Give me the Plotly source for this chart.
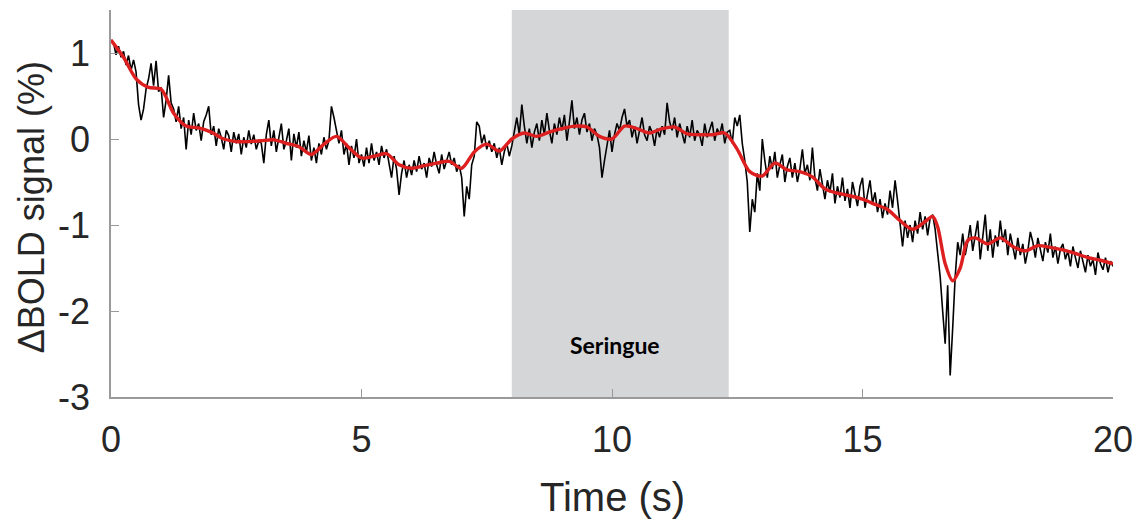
import numpy as np
import plotly.graph_objects as go

# raw BOLD trace, sampled every 0.05 s from 0 to 20 s
bold_raw = [
    1.15, 1.12, 0.98, 1.08, 0.95, 1.02, 0.86, 0.97, 0.80, 0.92, 0.78, 0.40, 0.22, 0.35, 0.58, 0.70, 0.88, 0.62, 0.91, 0.55,
    0.60, 0.25, 0.45, 0.74, 0.42, 0.35, 0.20, 0.38, 0.12, 0.25, -0.12, 0.22, 0.05, 0.30, 0.10, 0.18, -0.02, 0.20, 0.28, 0.38,
    0.05, 0.15, -0.08, 0.12, 0.02, -0.12, 0.10, 0.04, -0.15, 0.08, -0.05, 0.06, -0.18, 0.02, -0.10, 0.10, -0.06, 0.05, -0.12, -0.02,
    -0.05, -0.28, 0.05, 0.22, -0.08, 0.10, -0.15, 0.02, 0.18, -0.12, -0.02, 0.12, -0.25, 0.06, -0.10, 0.08, -0.20, -0.02, -0.15, 0.04,
    -0.25, -0.10, -0.28, -0.05, -0.18, 0.02, -0.12, -0.02, 0.38, 0.25, 0.12, -0.05, 0.10, -0.18, -0.05, -0.30, -0.08, -0.22, 0.00, -0.28,
    -0.18, -0.32, -0.10, -0.28, -0.05, -0.25, -0.15, -0.30, -0.08, -0.22, -0.12, -0.28, -0.45, -0.20, -0.35, -0.65, -0.40, -0.25, -0.45, -0.30,
    -0.42, -0.25, -0.38, -0.20, -0.35, -0.28, -0.45, -0.22, -0.32, -0.15, -0.30, -0.40, -0.18, -0.35, -0.25, -0.15, -0.30, -0.22, -0.38, -0.30,
    -0.45, -0.90, -0.55, -0.70, -0.30, -0.20, 0.20, 0.15, -0.05, 0.05, -0.12, -0.02, -0.15, -0.05, -0.22, -0.10, -0.30, -0.15, -0.05, -0.20,
    -0.08, 0.10, 0.25, 0.05, 0.40, 0.15, -0.05, 0.12, -0.10, 0.08, 0.18, -0.02, 0.22, 0.05, 0.30, 0.10, -0.05, 0.18, 0.05, 0.25,
    0.10, 0.28, -0.02, 0.20, 0.45, 0.12, 0.25, 0.05, 0.22, 0.30, 0.08, 0.18, -0.02, 0.12, 0.05, -0.10, -0.45, -0.25, -0.05, 0.10,
    -0.15, 0.05, 0.18, 0.10, 0.25, 0.35, 0.15, 0.22, 0.02, 0.15, -0.05, 0.12, 0.25, 0.05, -0.02, 0.15, 0.08, -0.08, 0.12, 0.02,
    0.15, 0.05, 0.42, 0.20, 0.10, 0.25, 0.02, 0.18, 0.08, -0.05, 0.15, 0.02, 0.22, -0.02, 0.10, 0.05, -0.08, 0.18, 0.02, 0.12,
    0.20, -0.02, 0.12, 0.05, 0.18, -0.05, 0.08, 0.10, -0.05, 0.25, 0.15, 0.28, -0.05, -0.25, -0.50, -1.08, -0.70, -0.85, -0.40, -0.60,
    0.00, -0.25, -0.45, -0.20, -0.35, -0.15, -0.45, -0.30, -0.18, -0.50, -0.32, -0.22, -0.45, -0.28, -0.50, -0.35, -0.12, -0.40, -0.30, -0.48,
    -0.10, -0.45, -0.60, -0.35, -0.55, -0.70, -0.48, -0.62, -0.40, -0.75, -0.55, -0.68, -0.45, -0.72, -0.58, -0.80, -0.50, -0.65, -0.78, -0.55,
    -0.45, -0.80, -0.65, -0.48, -0.75, -0.62, -0.85, -0.70, -0.92, -0.75, -0.88, -0.60, -0.80, -0.48, -0.72, -1.00, -1.25, -0.95, -1.15, -1.00,
    -1.20, -0.95, -1.10, -0.85, -1.05, -0.90, -1.12, -0.92, -0.88, -1.05, -1.35, -1.60, -2.00, -2.38, -1.70, -2.75, -2.20, -1.60, -1.20, -1.35,
    -1.10, -1.35, -1.20, -1.00, -1.30, -1.10, -0.95, -1.40, -1.15, -0.88, -1.30, -1.05, -1.38, -1.12, -1.25, -0.95, -1.20, -1.05, -1.35, -1.10,
    -1.25, -1.40, -1.15, -1.35, -1.22, -1.45, -1.30, -1.08, -1.20, -1.38, -1.15, -1.30, -1.42, -1.20, -1.32, -1.10, -1.38, -1.25, -1.45, -1.28,
    -1.22, -1.40, -1.30, -1.48, -1.25, -1.38, -1.50, -1.30, -1.42, -1.55, -1.35, -1.48, -1.40, -1.58, -1.32, -1.45, -1.52, -1.38, -1.55, -1.42,
    -1.48,
]
raw_time = np.linspace(0, 20, len(bold_raw))

# smoothed trace (red)
smooth_time = [0.0, 0.25, 0.5, 0.75, 1.0, 1.25, 1.5, 1.75, 2.0, 2.25, 2.5, 2.75, 3.0, 3.25, 3.5, 3.75,
               4.0, 4.25, 4.5, 4.75, 5.0, 5.25, 5.5, 5.75, 6.0, 6.25, 6.5, 6.75, 7.0, 7.25, 7.5, 7.75,
               8.0, 8.25, 8.5, 8.75, 9.0, 9.25, 9.5, 9.75, 10.0, 10.25, 10.5, 10.75, 11.0, 11.25, 11.5, 11.75,
               12.0, 12.25, 12.5, 12.75, 13.0, 13.25, 13.5, 13.75, 14.0, 14.25, 14.5, 14.75, 15.0, 15.25, 15.5, 15.75,
               16.0, 16.25, 16.4, 16.5, 16.65, 16.8, 16.95, 17.1, 17.25, 17.5, 17.75, 18.0, 18.25, 18.5, 18.75,
               19.0, 19.25, 19.5, 19.75, 20.0]
bold_smooth = [1.15, 0.95, 0.70, 0.60, 0.58, 0.30, 0.15, 0.13, 0.08, 0.00, -0.03, -0.03, -0.02, -0.01, -0.05, -0.09,
               -0.18, -0.06, 0.03, -0.10, -0.22, -0.20, -0.17, -0.30, -0.34, -0.31, -0.28, -0.26, -0.34, -0.15, -0.06, -0.14,
               0.00, 0.07, 0.03, 0.08, 0.12, 0.15, 0.14, 0.03, 0.00, 0.15, 0.12, 0.07, 0.12, 0.14, 0.06, 0.05,
               0.05, 0.07, -0.12, -0.38, -0.43, -0.28, -0.36, -0.38, -0.44, -0.58, -0.63, -0.66, -0.70, -0.76, -0.82, -0.95,
               -1.05, -0.96, -0.90, -1.02, -1.45, -1.65, -1.50, -1.18, -1.15, -1.22, -1.15, -1.25, -1.30, -1.24, -1.26,
               -1.29, -1.33, -1.38, -1.41, -1.45]

stim_window = [8.0, 12.33]
stim_label = "Seringue"

x_ticks = [0, 5, 10, 15, 20]
y_ticks = [-3, -2, -1, 0, 1]
y_tick_text = ["-3", "-2", "-1", "0", "1"]

fig = go.Figure()
fig.add_trace(go.Scatter(x=raw_time, y=bold_raw, mode="lines",
                         line={"color": "black", "width": 1.6}, showlegend=False))
fig.add_trace(go.Scatter(x=smooth_time, y=bold_smooth, mode="lines",
                         line={"color": "#dd1f1f", "width": 3.4, "shape": "spline", "smoothing": 0.8},
                         showlegend=False))

fig.add_shape(type="rect", xref="x", yref="y", x0=stim_window[0], x1=stim_window[1], y0=-3, y1=1.5,
              fillcolor="#d4d6d8", line={"width": 0}, layer="below")
fig.add_annotation(x=(stim_window[0] + stim_window[1]) / 2 - 0.1, y=-2.4, text="<b>%s</b>" % stim_label,
                   showarrow=False, font={"family": "Lato", "size": 23, "color": "black"})

axis_font = {"family": "Liberation Sans, Arial", "size": 36, "color": "#262626"}
fig.add_annotation(xref="paper", yref="paper", x=-0.079, y=0.49, text="ΔBOLD signal (%)", textangle=-90,
                   showarrow=False, xanchor="center", yanchor="middle", font=axis_font)
fig.add_annotation(xref="paper", yref="paper", x=0.5, y=-0.258, text="Time (s)",
                   showarrow=False, xanchor="center", yanchor="middle", font={**axis_font, "size": 40})

# page body adds an 8px offset, margins compensate for it
fig.update_layout(
    width=1143, height=523,
    margin={"l": 103, "r": 38, "t": 2, "b": 134, "autoexpand": False},
    plot_bgcolor="white", paper_bgcolor="white",
    xaxis={"range": [0, 20], "tickvals": x_ticks, "showgrid": False, "zeroline": False,
           "showline": True, "linecolor": "#9a9a9a", "linewidth": 1.5, "automargin": False,
           "ticks": "inside", "ticklen": 8, "tickcolor": "#9a9a9a",
           "tickfont": axis_font, "ticklabelstandoff": 10},
    yaxis={"range": [-3, 1.5], "tickvals": y_ticks, "ticktext": y_tick_text,
           "showgrid": False, "zeroline": False,
           "showline": True, "linecolor": "#9a9a9a", "linewidth": 1.5, "automargin": False,
           "ticks": "inside", "ticklen": 8, "tickcolor": "#9a9a9a",
           "tickfont": axis_font, "ticklabelstandoff": 12},
)

fig.write_html("out.html")
